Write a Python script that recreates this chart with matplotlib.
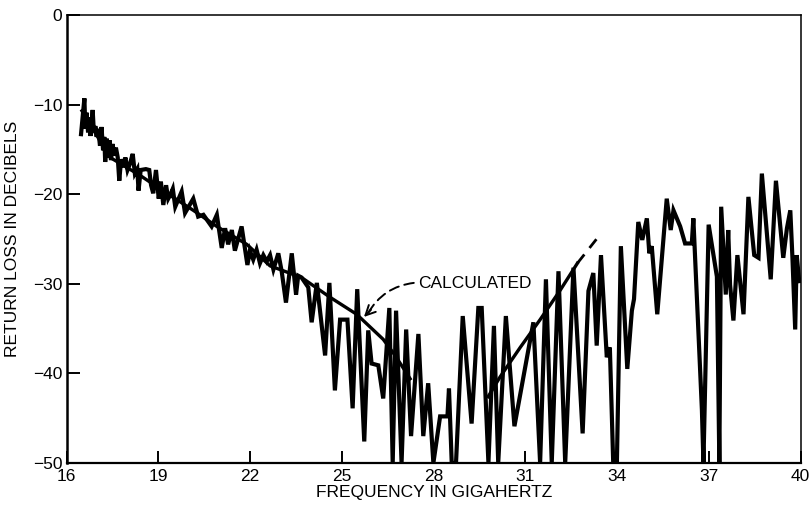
"""Return loss vs frequency: measured trace and calculated curve."""

import matplotlib
matplotlib.use("Agg")
import matplotlib.pyplot as plt

plt.rcParams["font.family"] = ["Liberation Sans", "DejaVu Sans"]

meas_freq = [
    16.47, 16.58, 16.61, 16.65, 16.70, 16.74, 16.78, 16.85, 16.89, 16.94,
    16.98, 17.03, 17.09, 17.14, 17.19, 17.23, 17.26, 17.31, 17.35, 17.41,
    17.45, 17.50, 17.56, 17.61, 17.67, 17.72, 17.78, 17.85, 17.92, 17.99,
    18.07, 18.16, 18.23, 18.31, 18.35, 18.42, 18.59, 18.70, 18.76, 18.83,
    18.92, 19.01, 19.08, 19.16, 19.25, 19.32, 19.41, 19.47, 19.55,
    19.76, 19.87, 20.14, 20.30, 20.47, 20.74, 20.91, 21.07, 21.18, 21.28,
    21.40, 21.50, 21.72, 21.91, 21.99, 22.10, 22.21, 22.32, 22.43, 22.54,
    22.65, 22.76, 22.92, 23.03, 23.17, 23.36, 23.50, 23.57, 23.68, 23.90,
    24.01, 24.18, 24.45, 24.59, 24.77, 24.94, 25.18, 25.35, 25.50, 25.73,
    25.86, 25.97, 26.19, 26.35, 26.55, 26.66, 26.77, 26.95, 27.10, 27.26,
    27.50, 27.66, 27.82, 27.99, 28.21, 28.45, 28.50, 28.59, 28.73, 28.95,
    29.24, 29.46, 29.57, 29.79, 29.97, 30.11, 30.36, 30.64, 31.26, 31.48,
    31.67, 31.86, 32.08, 32.30, 32.57, 32.87, 33.06, 33.22, 33.33, 33.47,
    33.66, 33.76, 33.87, 33.99, 34.12, 34.33, 34.48, 34.55, 34.69, 34.82,
    34.97, 35.05, 35.13, 35.31, 35.62, 35.75, 35.84, 36.06, 36.22, 36.44,
    36.49, 36.77, 36.82, 36.99, 37.26, 37.34, 37.40, 37.55, 37.63, 37.69,
    37.80, 37.93, 38.13, 38.29, 38.48, 38.62, 38.73, 39.02, 39.19, 39.43,
    39.55, 39.66, 39.73, 39.82, 39.87, 39.95,
]
meas_db = [
    -13.3, -9.3, -12.7, -10.9, -13.1, -11.4, -13.5, -10.6, -13.1, -12.4,
    -13.6, -12.7, -14.6, -12.5, -15.1, -13.6, -16.4, -13.8, -15.9, -14.0,
    -16.2, -14.4, -15.7, -14.8, -15.9, -18.5, -16.1, -17.0, -15.9, -17.3,
    -16.6, -15.5, -17.7, -17.2, -19.6, -17.3, -17.2, -17.3, -19.0, -19.9,
    -17.3, -20.5, -18.6, -21.2, -19.0, -20.5, -19.9, -19.4, -21.4,
    -19.7, -22.1, -20.5, -22.5, -22.3, -23.6, -22.3, -26.0, -23.8, -25.6,
    -24.0, -26.3, -23.6, -27.9, -26.3, -27.3, -26.2, -27.7, -26.8, -27.5,
    -26.8, -28.4, -26.6, -28.6, -32.1, -26.6, -31.2, -29.1, -29.3, -30.4,
    -34.3, -29.9, -38.0, -29.9, -41.9, -34.0, -34.0, -43.9, -30.6, -47.6,
    -35.2, -38.9, -39.1, -42.8, -32.7, -50.0, -33.0, -50.0, -35.1, -47.0,
    -35.6, -47.0, -41.1, -50.0, -44.8, -44.8, -41.7, -50.0, -50.0, -33.6,
    -45.6, -32.7, -32.7, -50.0, -34.7, -50.0, -33.6, -45.9, -34.3, -50.0,
    -29.5, -50.0, -28.6, -50.0, -28.2, -46.7, -30.8, -28.8, -36.9, -26.8,
    -38.2, -37.1, -50.0, -50.0, -25.8, -39.5, -33.0, -31.7, -23.1, -25.1,
    -22.7, -26.6, -25.8, -33.4, -20.5, -24.0, -21.8, -23.6, -25.5, -25.5,
    -22.7, -44.1, -50.0, -23.4, -29.2, -50.0, -21.4, -31.2, -24.0, -30.1,
    -34.1, -26.8, -33.4, -20.3, -26.8, -27.1, -17.7, -29.5, -18.5, -27.1,
    -23.8, -21.8, -27.1, -35.1, -26.8, -29.7,
]

# calculated curve, low band and high band (GHz, dB)
calc_lo_freq = [16.50, 17.42, 18.40, 19.05, 20.14, 20.91, 21.89, 22.65,
                23.68, 24.61, 25.48, 26.35, 26.74, 27.23]
calc_lo_db = [-10.7, -15.9, -17.9, -19.4, -21.8, -23.6, -25.6, -28.0,
              -29.3, -31.5, -33.4, -36.2, -38.0, -40.6]
calc_hi_freq = [29.78, 30.17, 30.83, 31.48, 32.14, 32.70]
calc_hi_db = [-42.6, -40.4, -37.1, -34.0, -30.7, -27.7]
# dashed extension of the high band
calc_ext_freq = [32.70, 33.35]
calc_ext_db = [-27.7, -24.9]

xticks = [16, 19, 22, 25, 28, 31, 34, 37, 40]
yticks = [0, -10, -20, -30, -40, -50]

assert len(meas_freq) == len(meas_db)

fig = plt.figure(figsize=(8.11, 5.05), dpi=100)
ax = fig.add_axes([0.0822, 0.0832, 0.9051, 0.8871])

ax.plot(meas_freq, meas_db, color="black", linewidth=3.0,
        solid_joinstyle="miter")
ax.plot(calc_lo_freq, calc_lo_db, color="black", linewidth=2.4)
ax.plot(calc_hi_freq, calc_hi_db, color="black", linewidth=2.4)
ax.plot(calc_ext_freq, calc_ext_db, color="black", linewidth=2.0,
        linestyle=(0, (4, 3)))

# annotation: dashed leader to the calculated curve
ax.annotate("", xy=(25.85, -33.3), xytext=(27.35, -29.9),
            arrowprops=dict(arrowstyle="-", color="black", lw=1.4,
                            linestyle=(0, (5, 3)),
                            connectionstyle="arc3,rad=0.25",
                            shrinkA=0, shrinkB=0))
ax.annotate("", xy=(25.72, -33.7), xytext=(25.95, -32.9),
            arrowprops=dict(arrowstyle="->,head_length=0.7,head_width=0.35",
                            color="black", lw=1.4, shrinkA=0, shrinkB=0))
ax.text(27.5, -30.0, "CALCULATED", fontsize=12.5, ha="left", va="center")

ax.set_xlim(16, 40)
ax.set_ylim(-50, 0)
ax.set_xticks(xticks)
ax.set_yticks(yticks)
ax.tick_params(direction="in", length=9, width=1.4, labelsize=12.5, pad=4)
ax.tick_params(axis="y", pad=3)

ax.spines["left"].set_linewidth(1.8)
ax.spines["bottom"].set_linewidth(1.6)
ax.spines["top"].set_linewidth(1.1)
ax.spines["right"].set_linewidth(1.1)

ax.set_xlabel("FREQUENCY IN GIGAHERTZ", fontsize=12.5, labelpad=1)
ax.set_ylabel("RETURN LOSS IN DECIBELS", fontsize=12.5, labelpad=9)

fig.savefig("out.png", dpi=100)
